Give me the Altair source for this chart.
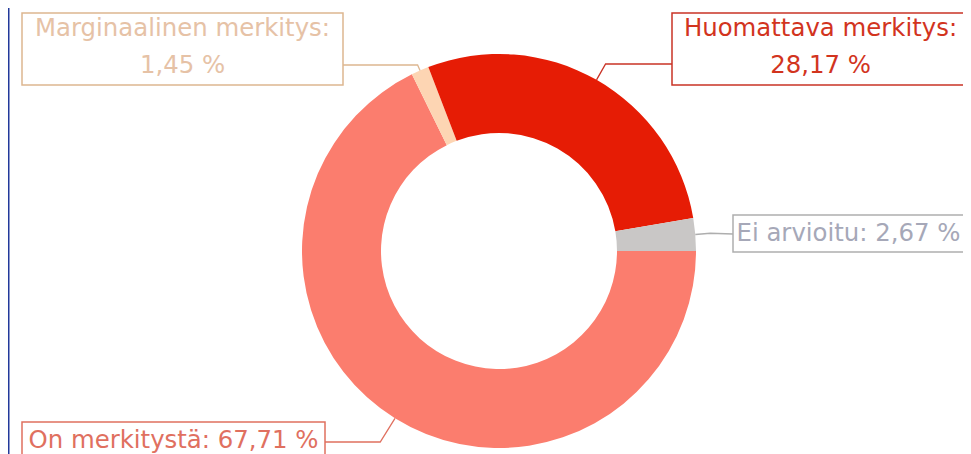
import math
import altair as alt
import pandas as pd

# ---- data ----
categories = ["On merkitystä", "Marginaalinen merkitys", "Huomattava merkitys", "Ei arvioitu"]
values = [67.71, 1.45, 28.17, 2.67]
label_lines = [["On merkitystä: 67,71 %"], ["Marginaalinen merkitys:", "1,45 %"],
               ["Huomattava merkitys:", "28,17 %"], ["Ei arvioitu: 2,67 %"]]
colors = ["#FB7D6E", "#FDD5B3", "#E61C05", "#C9C7C6"]
text_colors = ["#E0705F", "#E6C2A6", "#D2341E", "#A6A8B8"]
border_colors = ["#E0705F", "#DDB690", "#C93326", "#AEAEAE"]

# ---- layout (chart pixel coords; page = chart + 8) ----
CX, CY = 491, 243
R_OUT, R_IN = 197, 118
START = math.pi / 2  # first slice starts at 3 o'clock
# label boxes: x0, x1, y0, y1
boxes = [(14, 317, 414, 452), (14, 335, 5, 77), (664, 961, 5, 77), (725, 956, 207, 244)]
line_offsets = [[0], [-20, 17], [-20, 17], [0]]
elbow_r = [206, 207, 215, 212]
attach_y = [434, 57, 56, 226]
FONT_SIZE = 24.4

total = sum(values)
slices = pd.DataFrame({"cat": categories, "val": values, "ord": list(range(len(values))),
                       "col": colors})

arc = alt.Chart(slices).mark_arc(innerRadius=R_IN, outerRadius=R_OUT).encode(
    theta=alt.Theta("val:Q", stack=True,
                    scale=alt.Scale(range=[START, START + 2 * math.pi])),
    color=alt.Color("col:N", scale=None, legend=None),
    order=alt.Order("ord:Q"),
    x=alt.value(CX), y=alt.value(CY),
)

# leader lines from slice mid-angle
line_rows = []
cum = 0.0
for i, v in enumerate(values):
    mid = START + 2 * math.pi * (cum + v / 2) / total
    cum += v
    sx, sy = math.sin(mid), -math.cos(mid)
    x0b, x1b, y0b, y1b = boxes[i]
    p1 = (CX + R_OUT * sx, CY + R_OUT * sy)
    if abs(sy) > 0.3:
        t = (attach_y[i] - p1[1]) / sy
        p2 = (p1[0] + t * sx, attach_y[i])
    else:
        p2 = (CX + elbow_r[i] * sx, CY + elbow_r[i] * sy)
    bx = x1b if p1[0] > x1b else x0b
    p3 = (bx, attach_y[i])
    for k, (px, py) in enumerate([p1, p2, p3]):
        line_rows.append({"grp": categories[i], "k": k, "px": px, "py": py,
                          "col": border_colors[i]})
lines_df = pd.DataFrame(line_rows)

lines = alt.Chart(lines_df).mark_line(strokeWidth=1.3).encode(
    x=alt.X("px:Q", scale=None, axis=None),
    y=alt.Y("py:Q", scale=None, axis=None),
    detail="grp:N",
    order="k:Q",
    color=alt.Color("col:N", scale=None, legend=None),
)

box_df = pd.DataFrame({
    "cat": categories,
    "x0": [b[0] for b in boxes], "x1": [b[1] for b in boxes],
    "y0": [b[2] for b in boxes], "y1": [b[3] for b in boxes],
    "bcol": border_colors,
})

text_rows = []
for i, lines_i in enumerate(label_lines):
    b = boxes[i]
    for j, s in enumerate(lines_i):
        text_rows.append({"tx": (b[0] + b[1]) / 2,
                          "ty": (b[2] + b[3]) / 2 + line_offsets[i][j],
                          "label": s, "tcol": text_colors[i]})
text_df = pd.DataFrame(text_rows)

rects = alt.Chart(box_df).mark_rect(fill="white", strokeWidth=1.5).encode(
    x=alt.X("x0:Q", scale=None, axis=None), x2="x1:Q",
    y=alt.Y("y0:Q", scale=None, axis=None), y2="y1:Q",
    stroke=alt.Stroke("bcol:N", scale=None, legend=None),
)

texts = alt.Chart(text_df).mark_text(font="DejaVu Sans", fontSize=FONT_SIZE,
                                     align="center", baseline="middle").encode(
    x=alt.X("tx:Q", scale=None, axis=None),
    y=alt.Y("ty:Q", scale=None, axis=None),
    text="label:N",
    color=alt.Color("tcol:N", scale=None, legend=None),
)

# thin part of the blue side strip that falls inside the chart area
strip = alt.Chart(pd.DataFrame({"a": [0]})).mark_rect(color="#22399A").encode(
    x=alt.value(0), x2=alt.value(1.5), y=alt.value(0), y2=alt.value(446),
)

chart = alt.layer(arc, lines, rects, texts, strip).properties(
    width=955, height=446,
    autosize=alt.AutoSizeParams(type="fit", contains="padding"),
    padding=0,
).configure(background="white").configure_view(stroke=None)

chart.save("out.html", embed_options={"renderer": "svg", "actions": False})
